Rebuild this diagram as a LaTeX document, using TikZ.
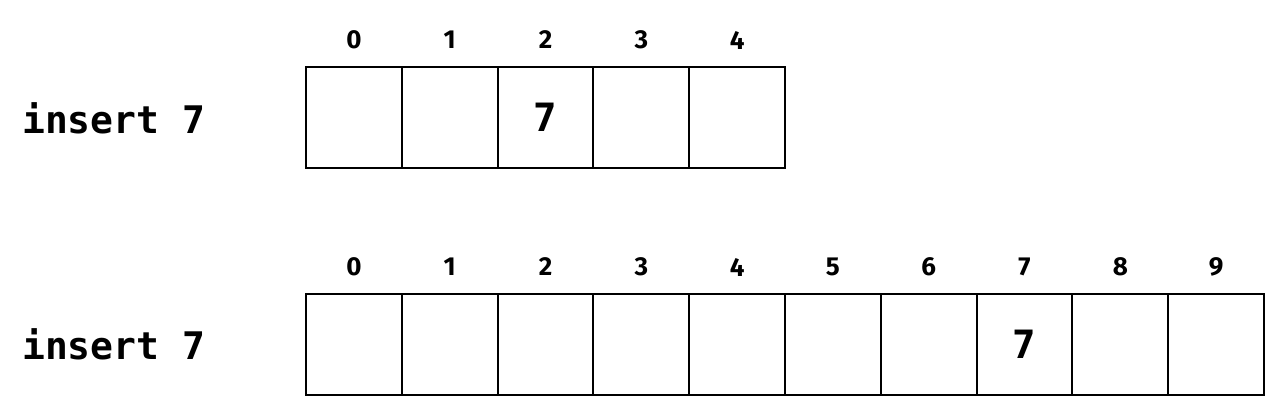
\documentclass[tikz,border=0pt]{standalone}
\usepackage{fontspec}
\newfontfamily\labfont{DejaVu Sans Mono}
\newfontfamily\idxfont{Fira Sans}
\begin{document}
\begin{tikzpicture}[x=1pt,y=-1pt,
  cell/.style={draw=black,line width=2pt,minimum width=95.8pt,minimum height=101pt,inner sep=0pt,
    font=\labfont\bfseries\fontsize{39}{46}\selectfont},
  idx/.style={inner sep=0pt,font=\idxfont\bfseries\fontsize{26}{30}\selectfont},
  lab/.style={inner sep=0pt,anchor=base west,font=\labfont\bfseries\fontsize{38}{46}\selectfont}]
\useasboundingbox (0,0) rectangle (1284,415);
\fill[white] (0,0) rectangle (1284,415);
% top row
\foreach \i in {0,...,4}{
  \node[cell] (t\i) at ({306+(\i+0.5)*95.8},117.5) {};
  \node[idx] (ti\i) at ({306+(\i+0.5)*95.8},40) {\i};
}
\node[cell,draw=none] (tv) at (t2) {7};
% bottom row
\foreach \i in {0,...,9}{
  \node[cell] (b\i) at ({306+(\i+0.5)*95.8},344) {};
  \node[idx] (bi\i) at ({306+(\i+0.5)*95.8},267) {\i};
}
\node[cell,draw=none] (bv) at (b7) {7};
\node[lab] (l1) at (22,133) {insert 7};
\node[lab] (l2) at (22,359.5) {insert 7};
\end{tikzpicture}
\end{document}
